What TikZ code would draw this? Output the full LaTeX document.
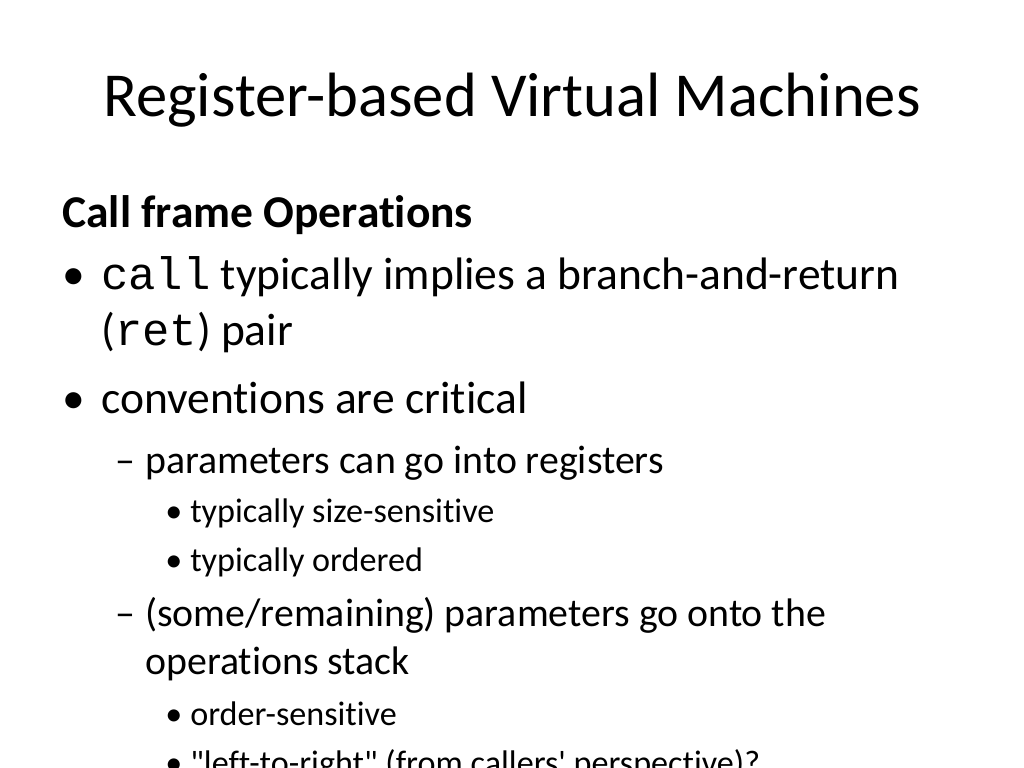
\documentclass[tikz,border=0pt]{standalone}
\usepackage{fontspec}
\setmainfont[Ligatures={NoCommon}]{Carlito}
\newfontfamily\cour{Liberation Mono}
\begin{document}
\begin{tikzpicture}[x=0.703125pt,y=-0.703125pt,
  txt/.style={anchor=base west,inner sep=0pt},
  lone/.style={txt,font=\fontsize{32}{38}\selectfont},
  ltwo/.style={txt,font=\fontsize{28}{34}\selectfont},
  lthree/.style={txt,font=\fontsize{24}{29}\selectfont}]
\useasboundingbox (0,0) rectangle (1024,768);
\clip (0,0) rectangle (1024,768);
\fill[white] (0,0) rectangle (1024,768);
\node[anchor=base,inner sep=0pt,font=\fontsize{44}{52}\selectfont] (title) at (512,117) {Register-based Virtual Machines};
\node[lone,font=\bfseries\fontsize{32}{38}\selectfont] (h) at (62,228) {Call frame Operations};
\node[lone] (b1) at (62,290) {•};
\node[lone] (t1) at (101,290) {{\cour call} typically implies a branch-and-return};
\node[lone] (t1b) at (101,345) {({\cour ret}) pair};
\node[lone] (b2) at (62,413) {•};
\node[lone] (t2) at (101,413) {conventions are critical};
\node[ltwo] (d1) at (115,473) {–};
\node[ltwo] (t3) at (145,473) {parameters can go into registers};
\node[lthree] (s1) at (165,522) {•};
\node[lthree] (t4) at (190,522) {typically size-sensitive};
\node[lthree] (s2) at (165,571) {•};
\node[lthree] (t5) at (190,571) {typically ordered};
\node[ltwo] (d2) at (115,626) {–};
\node[ltwo] (t6) at (145,626) {(some/remaining) parameters go onto the};
\node[ltwo] (t6b) at (145,674) {operations stack};
\node[lthree] (s3) at (165,725) {•};
\node[lthree] (t7) at (190,725) {order-sensitive};
\node[lthree] (s4) at (165,774) {•};
\node[lthree] (t8) at (190,774) {\textquotedbl left-to-right\textquotedbl{} (from callers\textquotesingle{} perspective)?};
\end{tikzpicture}
\end{document}
